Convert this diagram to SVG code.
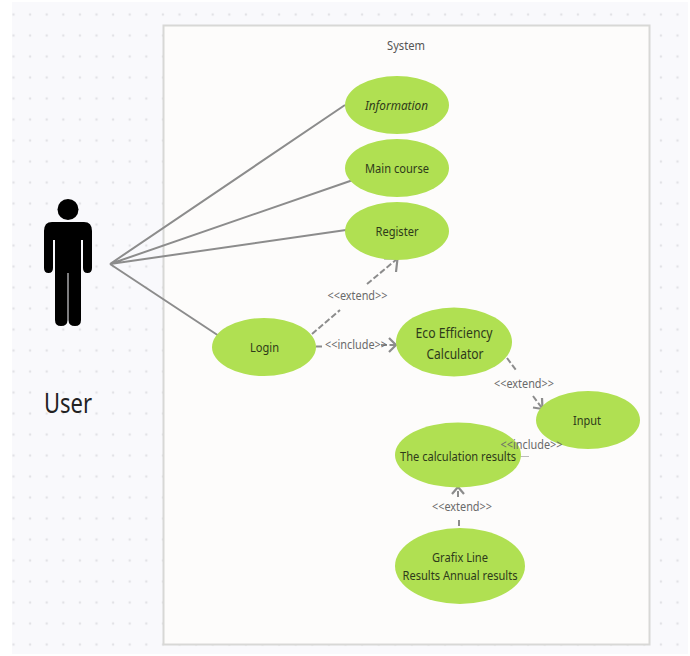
<svg xmlns="http://www.w3.org/2000/svg" width="690" height="656" viewBox="0 0 690 656">
<defs>
<pattern id="dots" x="13.5" y="14.5" width="16.6" height="21" patternUnits="userSpaceOnUse"><circle cx="0" cy="0" r="1.3" fill="#e2e2e6"/><circle cx="16.6" cy="0" r="1.3" fill="#e2e2e6"/><circle cx="0" cy="21" r="1.3" fill="#e2e2e6"/><circle cx="16.6" cy="21" r="1.3" fill="#e2e2e6"/></pattern>
</defs>
<style>
text{font-family:"Noto Sans","Open Sans","DejaVu Sans",sans-serif;text-anchor:middle}
.uc{fill:#b0e052}
.t{font-size:13px;fill:#2e3a1a}
.lb{font-size:12px;fill:#6a6a6a}
.a{fill:none;stroke:#8c8c8c;stroke-width:2}
.d{fill:none;stroke:#8c8c8c;stroke-width:2;stroke-dasharray:6 2.5}
.h{fill:none;stroke:#8c8c8c;stroke-width:2.2}
</style>
<rect x="12" y="2" width="676" height="652" fill="#f9f9fc"/>
<rect x="12" y="4" width="676" height="650" fill="url(#dots)"/>
<rect id="system-boundary" x="163.500" y="25.500" width="486" height="619" fill="#fdfcfb" stroke="#d8d8d6" stroke-width="2"/>
<text x="406" y="50" class="t" style="fill:#555" textLength="38" lengthAdjust="spacingAndGlyphs">System</text>
<g id="connectors">
<path class="a" d="M110 264L345 105M110 264L353 180M110 264L346 230M110 264L219 336"/>
<path class="d" d="M312 334L340 310M367 284L397 259"/>
<path class="h" d="M384 258.500L397.500 258.500L396 272"/>
<path class="d" d="M316 346.500L322 346.500M381 345L395 345"/>
<path class="h" d="M389 338L396 345L389 352"/>
<path class="d" d="M507 358L516 370M533 396L542 408"/>
<path class="h" d="M533 407.500L542.500 409L542 398"/>
<path d="M520 456.500L529 456.500" fill="none" stroke="#bbb" stroke-width="1"/>
<path class="d" d="M459 520L459 528M458 497L458 488"/>
<path class="h" d="M452 494L458 487L464 494"/>
</g>
<g id="user">
<circle cx="68" cy="209.500" r="10.500" fill="#000"/>
<path fill="#000" d="M52 222H84Q92 222 92 231V268Q92 273 87.500 273Q83 273 83 268V240H81V320Q81 326 75 326Q68.500 326 68.500 320V273H67.500V320Q67.500 326 61 326Q55 326 55 320V240H53V268Q53 273 48.500 273Q44 273 44 268V231Q44 222 52 222Z"/>
<text x="68" y="413" style="font-size:27px;fill:#222" textLength="48" lengthAdjust="spacingAndGlyphs">User</text>
</g>
<g id="information"><ellipse class="uc" cx="397" cy="105" rx="52" ry="29"/><text x="396.500" y="110" class="t" font-style="italic" textLength="63" lengthAdjust="spacingAndGlyphs">Information</text></g>
<g id="main-course"><ellipse class="uc" cx="397" cy="168" rx="52" ry="29"/><text x="397" y="173" class="t" textLength="64" lengthAdjust="spacingAndGlyphs">Main course</text></g>
<g id="register"><ellipse class="uc" cx="397" cy="231" rx="52" ry="29"/><text x="397" y="236" class="t" textLength="43" lengthAdjust="spacingAndGlyphs">Register</text></g>
<g id="login"><ellipse class="uc" cx="264" cy="347" rx="52" ry="29"/><text x="264.500" y="352" class="t" textLength="29" lengthAdjust="spacingAndGlyphs">Login</text></g>
<g id="eco"><ellipse class="uc" cx="454" cy="342" rx="58" ry="34.500"/><text x="454" y="338" class="t" style="font-size:15px" textLength="77" lengthAdjust="spacingAndGlyphs">Eco Efficiency</text><text x="455" y="359" class="t" style="font-size:15px" textLength="57" lengthAdjust="spacingAndGlyphs">Calculator</text></g>
<g id="input"><ellipse class="uc" cx="588" cy="420" rx="52" ry="29"/><text x="587" y="425" class="t" textLength="28" lengthAdjust="spacingAndGlyphs">Input</text></g>
<g id="calculation-results"><ellipse class="uc" cx="458" cy="455" rx="63" ry="32.500"/><text x="458" y="461" class="t" textLength="116" lengthAdjust="spacingAndGlyphs">The calculation results</text></g>
<g id="grafix"><ellipse class="uc" cx="460" cy="566" rx="65" ry="38"/><text x="460" y="562" class="t" textLength="56" lengthAdjust="spacingAndGlyphs">Grafix Line</text><text x="460" y="580" class="t" textLength="115" lengthAdjust="spacingAndGlyphs">Results Annual results</text></g>
<text x="357.500" y="300" class="lb" textLength="60" lengthAdjust="spacingAndGlyphs">&lt;&lt;extend&gt;&gt;</text>
<text x="356" y="349" class="lb" textLength="62" lengthAdjust="spacingAndGlyphs">&lt;&lt;include&gt;&gt;</text>
<text x="524" y="388" class="lb" textLength="60" lengthAdjust="spacingAndGlyphs">&lt;&lt;extend&gt;&gt;</text>
<text x="531.500" y="449" class="lb" textLength="62" lengthAdjust="spacingAndGlyphs">&lt;&lt;include&gt;&gt;</text>
<text x="462" y="511" class="lb" textLength="60" lengthAdjust="spacingAndGlyphs">&lt;&lt;extend&gt;&gt;</text>
</svg>
